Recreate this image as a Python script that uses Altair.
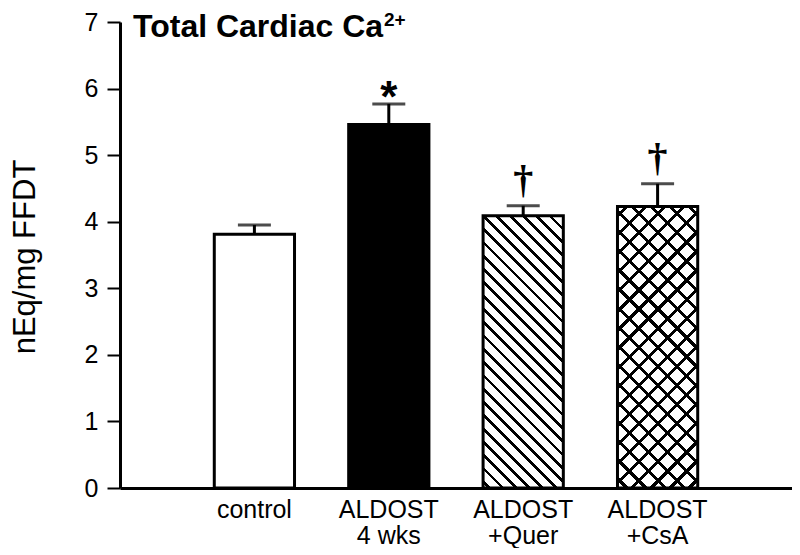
import math
import altair as alt
import pandas as pd

# ---- data ----
groups = ["control", "ALDOST\n4 wks", "ALDOST\n+Quer", "ALDOST\n+CsA"]
means = [3.81, 5.46, 4.09, 4.23]
uppers = [3.95, 5.77, 4.24, 4.57]
signs = ["", "*", "†", "†"]
y_ticks = [0, 1, 2, 3, 4, 5, 6, 7]
title_main = "Total Cardiac Ca"
title_sup = "2+"
y_title = "nEq/mg FFDT"

df = pd.DataFrame({"group": groups, "mean": means, "upper": uppers,
                   "sign": signs, "i": list(range(len(groups)))})

W, H = 672, 466
Y_MAX = 7
P_INNER, P_OUTER = 0.403, 0.7015
step = W / (len(groups) - P_INNER + 2 * P_OUTER)
bw = step * (1 - P_INNER)


def hatch(value, d, lw, direction, bg):
    """linear gradient imitating a hatch pattern on a bar of given value"""
    w = bw
    h = value / Y_MAX * H
    L = w + h
    c = L / (w * w + h * h)
    P = d * math.sqrt(2) / L
    th = lw * math.sqrt(2) / L
    stops = [alt.GradientStop(offset=0, color=bg)]
    k = 0
    while True:
        ctr = P * (k + 0.5)
        a = ctr - th / 2
        b = ctr + th / 2
        if a >= 1:
            break
        a = round(max(a, 0), 5)
        b = round(min(b, 1), 5)
        stops += [alt.GradientStop(offset=a, color=bg),
                  alt.GradientStop(offset=a, color="black"),
                  alt.GradientStop(offset=b, color="black"),
                  alt.GradientStop(offset=b, color=bg)]
        k += 1
    stops.append(alt.GradientStop(offset=1, color=bg))
    if direction == "back":
        x1, y1, x2, y2 = 0, 1, c * w, 1 - c * h
    else:
        x1, y1, x2, y2 = 0, 0, c * w, c * h
    return alt.LinearGradient(gradient="linear", stops=stops,
                              x1=x1, y1=y1, x2=round(x2, 5), y2=round(y2, 5))


x_enc = alt.X("group:N", sort=groups,
              scale=alt.Scale(paddingInner=P_INNER, paddingOuter=P_OUTER),
              axis=alt.Axis(title=None, labelAngle=0, ticks=False, tickSize=0,
                            labelExpr="split(datum.label, '\\n')",
                            labelFontSize=25, labelLineHeight=26,
                            labelPadding=9, labelBaseline="top",
                            domainWidth=3, domainColor="black",
                            labelColor="black"))
y_scale = alt.Scale(domain=[0, Y_MAX], nice=False)
y_enc = alt.Y("mean:Q", scale=y_scale,
              axis=alt.Axis(values=y_ticks, format="d", title=y_title,
                            tickSize=13, tickWidth=2, tickColor="black",
                            labelPadding=9, labelFontSize=25,
                            labelColor="black",
                            domainWidth=3, domainColor="black",
                            titleFontSize=31, titleFontWeight="normal",
                            titleColor="black", titleX=-86, titleY=234.5,
                            titleAlign="center", titleBaseline="alphabetic"))

base = alt.Chart(df).encode(x=x_enc)

bar_ctrl = base.transform_filter(alt.datum.i == 0).mark_bar(
    fill="white", stroke="black", strokeWidth=3).encode(y=y_enc)
bar_aldo = base.transform_filter(alt.datum.i == 1).mark_bar(
    fill="black", stroke="black", strokeWidth=3).encode(y=y_enc)
bar_quer = base.transform_filter(alt.datum.i == 2).mark_bar(
    fill=hatch(means[2], 9.4, 2.7, "back", "white"),
    stroke="black", strokeWidth=3).encode(y=y_enc)
bar_csa1 = base.transform_filter(alt.datum.i == 3).mark_bar(
    fill=hatch(means[3], 13.5, 3, "back", "white"),
    strokeWidth=0).encode(y=y_enc)
bar_csa2 = base.transform_filter(alt.datum.i == 3).mark_bar(
    fill=hatch(means[3], 13.5, 3, "fwd", "rgba(255,255,255,0)"),
    stroke="black", strokeWidth=3).encode(y=y_enc)

err = base.mark_rule(color="black", strokeWidth=3).encode(
    y=alt.Y("mean:Q", scale=y_scale), y2="upper:Q")
cap = base.mark_tick(color="black", size=33, thickness=3).encode(
    y=alt.Y("upper:Q", scale=y_scale))

star = base.transform_filter(alt.datum.i == 1).mark_text(
    font="Liberation Sans", fontWeight="bold", fontSize=44,
    baseline="alphabetic", dy=8, color="black").encode(
    y=alt.Y("upper:Q", scale=y_scale), text="sign:N")
dagger = base.transform_filter(alt.datum.i >= 2).mark_text(
    font="Liberation Serif", fontWeight="bold", fontSize=40,
    baseline="alphabetic", dy=-13, color="black").encode(
    y=alt.Y("upper:Q", scale=y_scale), text="sign:N")

t1 = alt.Chart(pd.DataFrame({"t": [title_main]})).mark_text(
    align="left", baseline="alphabetic", fontSize=32, fontWeight="bold",
    color="black").encode(x=alt.value(13), y=alt.value(15), text="t:N")
t2 = alt.Chart(pd.DataFrame({"t": [title_sup]})).mark_text(
    align="left", baseline="alphabetic", fontSize=19, fontWeight="bold",
    color="black").encode(x=alt.value(264), y=alt.value(4), text="t:N")

chart = alt.layer(bar_ctrl, bar_aldo, bar_quer, bar_csa1, bar_csa2,
                  err, cap, star, dagger, t1, t2).properties(
    width=W, height=H, autosize="none",
    padding={"left": 112, "top": 14, "right": 0, "bottom": 60}
).configure(font="Liberation Sans").configure_view(stroke=None).configure_axis(
    grid=False)

chart.save("out.html", embed_options={"renderer": "svg", "actions": False})
